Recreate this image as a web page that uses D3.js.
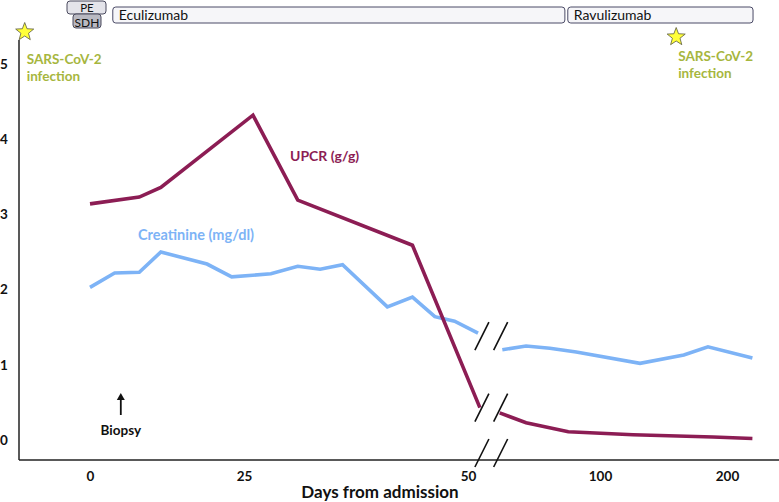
<!DOCTYPE html>
<html>
<head>
<meta charset="utf-8">
<script src="https://cdn.jsdelivr.net/npm/d3@7"></script>
<style>
  html, body { margin: 0; padding: 0; background: #fff; }
  svg { display: block; font-family: Lato, "Open Sans", sans-serif; }
</style>
</head>
<body>
<svg id="chart" width="779" height="502"></svg>
<script>
// ---- data ----
const xTickValues = [0, 25, 50, 100, 200];
const yTickValues = [0, 1, 2, 3, 4, 5];

const upcrDays   = [0, 8, 11.5, 26, 31, 43.8, 54.5, 62, 72, 88, 126, 189, 220];
const upcrValues = [3.14, 3.23, 3.36, 4.32, 3.19, 2.59, 0.43, 0.36, 0.23, 0.11, 0.07, 0.04, 0.02];

const creatDays   = [0, 4, 8, 11.5, 19, 23, 28, 31, 33.5, 36, 41, 43.8, 46.3, 48.5, 53.8, 63, 72, 81, 91, 131.5, 166, 185, 220];
const creatValues = [2.03, 2.22, 2.23, 2.50, 2.34, 2.17, 2.21, 2.31, 2.27, 2.33, 1.77, 1.90, 1.64, 1.58, 1.42, 1.20, 1.25, 1.22, 1.17, 1.02, 1.13, 1.24, 1.09];

const treatmentNames  = ["Eculizumab", "Ravulizumab"];
const treatmentStarts = [3.7, 87.8];
const treatmentEnds   = [86.7, 220.5];

const infectionDays = [-10.6, 160];
const biopsyDay = 5;
const breakStart = 54.5, breakEnd = 62;

// ---- scales ----
const svg = d3.select("#chart");
const x = d3.scaleLinear().domain([0, 25, 50, 100, 200]).range([90, 244, 468, 600, 727]);
const y = d3.scaleLinear().domain([0, 5]).range([440, 64]);

const axisY = 460, axisX = 19;

// ---- axes ----
svg.append("line").attr("x1", axisX).attr("x2", axisX).attr("y1", 40).attr("y2", axisY)
  .attr("stroke", "#222").attr("stroke-width", 1.5);
svg.append("line").attr("x1", axisX).attr("x2", 779).attr("y1", axisY).attr("y2", axisY)
  .attr("stroke", "#222").attr("stroke-width", 1.5);

const xAxis = svg.append("g").attr("transform", `translate(0,${axisY})`)
  .call(d3.axisBottom(x).tickValues(xTickValues).tickSize(0).tickPadding(11).tickFormat(d3.format("d")));
xAxis.select(".domain").remove();
xAxis.selectAll("text").attr("font-family", "Lato, sans-serif").attr("font-size", 13.5)
  .attr("font-weight", "bold").attr("fill", "#111");

svg.append("g").selectAll("text").data(yTickValues).join("text")
  .attr("x", 4).attr("y", d => y(d)).attr("dy", "0.35em").attr("text-anchor", "middle")
  .attr("font-size", 13.5).attr("font-weight", "bold").attr("fill", "#111")
  .text(d => d);

svg.append("text").attr("x", 380).attr("y", 498).attr("text-anchor", "middle")
  .attr("font-size", 17).attr("font-weight", "bold").attr("fill", "#111")
  .text("Days from admission");

// ---- lines ----
function drawSeries(days, values, color) {
  const pts = days.map((d, i) => [d, values[i]]);
  const mid = (breakStart + breakEnd) / 2;
  const segs = [pts.filter(p => p[0] < mid), pts.filter(p => p[0] > mid)];
  const line = d3.line().x(p => x(p[0])).y(p => y(p[1]));
  segs.forEach(s => {
    svg.append("path").attr("d", line(s)).attr("fill", "none")
      .attr("stroke", color).attr("stroke-width", 3.6)
      .attr("stroke-linejoin", "miter").attr("stroke-linecap", "butt");
  });
}
drawSeries(creatDays, creatValues, "#7db3f6");
drawSeries(upcrDays, upcrValues, "#8c1d54");

// ---- break marks ----
const mid = (breakStart + breakEnd) / 2;
const breakYs = [
  y(creatValues[creatDays.findIndex(d => d > mid) - 1]) + 3,
  y(upcrValues[upcrDays.findIndex(d => d > mid) - 1]),
  453
];
const breakXs = [x(breakStart) + 2, x(breakEnd) + 1];
breakYs.forEach(by => {
  breakXs.forEach(bx => {
    svg.append("line").attr("x1", bx - 7).attr("y1", by + 14).attr("x2", bx + 7).attr("y2", by - 14)
      .attr("stroke", "#111").attr("stroke-width", 1.6);
  });
});

// ---- series labels ----
svg.append("text").attr("x", 290).attr("y", 161).attr("font-size", 14).attr("font-weight", "bold")
  .attr("fill", "#8c1d54").text("UPCR (g/g)");
svg.append("text").attr("x", 138).attr("y", 240).attr("font-size", 14.5).attr("font-weight", "bold")
  .attr("fill", "#7db3f6").text("Creatinine (mg/dl)");

// ---- biopsy ----
const bx = x(biopsyDay);
svg.append("line").attr("x1", bx).attr("x2", bx).attr("y1", 415).attr("y2", 397)
  .attr("stroke", "#111").attr("stroke-width", 1.8);
svg.append("path").attr("d", `M${bx - 4},${400} L${bx},${393} L${bx + 4},${400} Z`).attr("fill", "#111");
svg.append("text").attr("x", bx).attr("y", 435).attr("text-anchor", "middle")
  .attr("font-size", 13.5).attr("font-weight", "bold").attr("fill", "#111").text("Biopsy");

// ---- treatment boxes ----
svg.append("rect").attr("x", 67).attr("y", 1).attr("width", 39).attr("height", 13).attr("rx", 3)
  .attr("fill", "#e4e4ea").attr("stroke", "#4a4a5e").attr("stroke-width", 1);
svg.append("text").attr("x", 87).attr("y", 11.5).attr("text-anchor", "middle").attr("font-size", 11.5)
  .attr("fill", "#111").text("PE");
svg.append("rect").attr("x", 73).attr("y", 14).attr("width", 28).attr("height", 14).attr("rx", 3)
  .attr("fill", "#b9b9c2").attr("stroke", "#4a4a5e").attr("stroke-width", 1);
svg.append("text").attr("x", 87).attr("y", 26.5).attr("text-anchor", "middle").attr("font-size", 12)
  .attr("fill", "#111").text("SDH");

treatmentNames.forEach((name, i) => {
  const x0 = x(treatmentStarts[i]), x1 = x(treatmentEnds[i]);
  svg.append("rect").attr("x", x0).attr("y", 7).attr("width", x1 - x0).attr("height", 16).attr("rx", 3)
    .attr("fill", "#f6f6f9").attr("stroke", "#4a4a66").attr("stroke-width", 1);
  svg.append("text").attr("x", x0 + 6).attr("y", 20).attr("font-size", 14).attr("fill", "#111").text(name);
});

// ---- infection stars ----
function starPath(cx, cy, R, r) {
  const pts = [];
  for (let k = 0; k < 10; k++) {
    const a = -Math.PI / 2 + k * Math.PI / 5;
    const rad = k % 2 === 0 ? R : r;
    pts.push([cx + rad * Math.cos(a), cy + rad * Math.sin(a)]);
  }
  return "M" + pts.map(p => p.join(",")).join("L") + "Z";
}
const starYs = [32, 37];
const labelYs = [64, 61];
infectionDays.forEach((d, i) => {
  const sx = x(d);
  svg.append("path").attr("d", starPath(sx, starYs[i], 9.5, 4)).attr("fill", "#ffff3a")
    .attr("stroke", "#5a5a40").attr("stroke-width", 0.8);
  const t = svg.append("text").attr("x", sx + 2).attr("y", labelYs[i]).attr("font-size", 13.5)
    .attr("font-weight", "bold").attr("fill", "#a6b63e");
  t.append("tspan").attr("x", sx + 2).text("SARS-CoV-2");
  t.append("tspan").attr("x", sx + 2).attr("dy", 17).text("infection");
});
</script>
</body>
</html>
